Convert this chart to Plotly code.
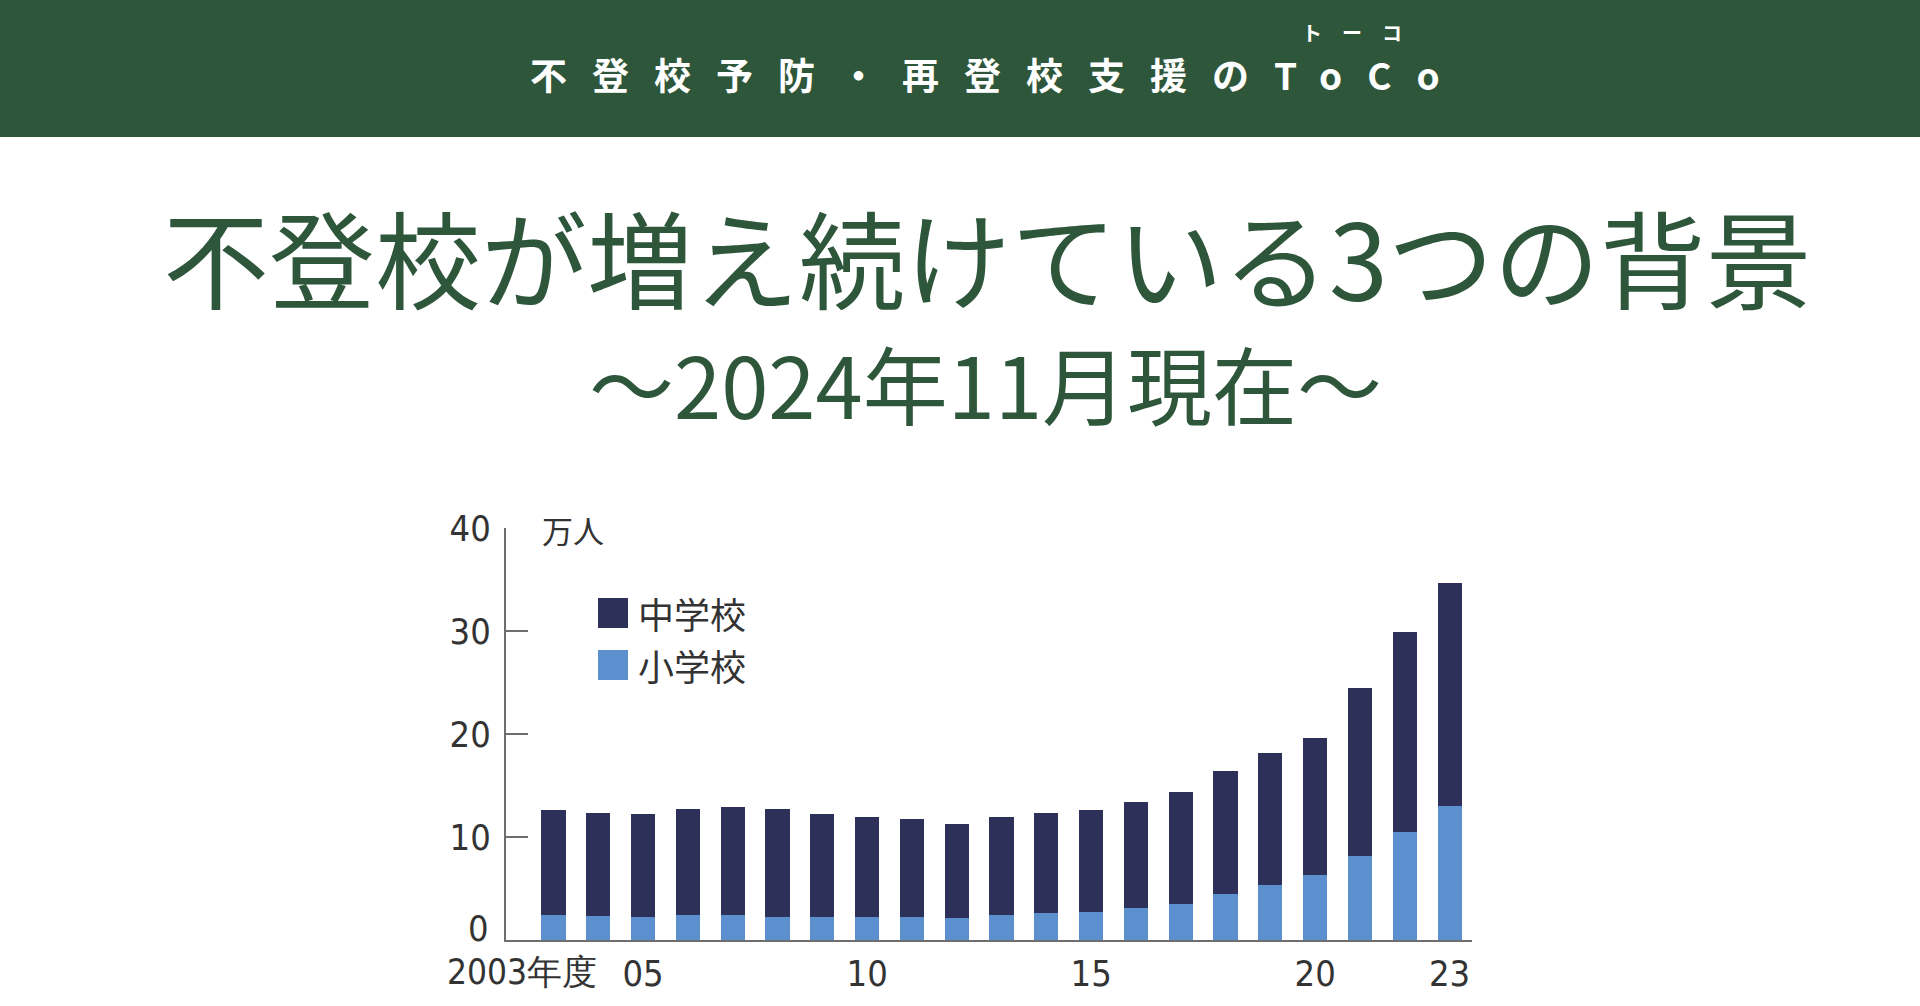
import plotly.graph_objects as go

# ---------------- data (万人) ----------------
years = list(range(2003, 2024))
elementary = [2.41, 2.33, 2.27, 2.38, 2.39, 2.27, 2.23, 2.25, 2.26, 2.12, 2.42,
              2.59, 2.76, 3.12, 3.50, 4.48, 5.34, 6.34, 8.15, 10.51, 13.04]
junior_high = [10.21, 10.00, 9.96, 10.31, 10.53, 10.42, 10.01, 9.74, 9.48, 9.14, 9.54,
               9.70, 9.84, 10.32, 10.90, 11.97, 12.79, 13.28, 16.34, 19.39, 21.61]
series_names = ["中学校", "小学校"]
x_tickvals = [2005, 2010, 2015, 2020, 2023]
x_ticktext = ["05", "10", "15", "20", "23"]
first_year_label = "2003年度"
y_tickvals = [10, 20, 30, 40]
y_unit = "万人"

header_text = "不登校予防・再登校支援のToCo"
header_ruby = "トーコ"
title_text = "不登校が増え続けている3つの背景"
subtitle_text = "〜2024年11月現在〜"

# ---------------- styles ----------------
W, H = 1920, 1006
PL, PR, PT, PB = 506, 1472, 528, 940   # plot area in pixels
GREEN = "#2e563a"
NAVY = "#2d3159"
LIGHT = "#5b8fcd"
AXIS = "#6e6e6e"
TXT = "#333333"
NUM_FONT = "Liberation Sans Narrow, DejaVu Sans Condensed, Liberation Sans, sans-serif"
CJK_FONT = "Noto Sans CJK JP, Noto Sans, sans-serif"


def px2x(px):
    return (px - PL) / (PR - PL)


def px2y(py):
    return (PB - py) / (PB - PT)


fig = go.Figure()
fig.add_trace(go.Bar(x=years, y=elementary, name=series_names[1],
                     marker=dict(color=LIGHT, line=dict(width=0)), width=0.54,
                     showlegend=False))
fig.add_trace(go.Bar(x=years, y=junior_high, name=series_names[0],
                     marker=dict(color=NAVY, line=dict(width=0)), width=0.54,
                     showlegend=False))

shapes = [
    # header band
    dict(type="rect", xref="paper", yref="paper", x0=px2x(0), x1=px2x(W),
         y0=px2y(137), y1=px2y(0), fillcolor=GREEN, line=dict(width=0), layer="below"),
    # legend squares
    dict(type="rect", xref="paper", yref="paper", x0=px2x(598), x1=px2x(628),
         y0=px2y(628), y1=px2y(598), fillcolor=NAVY, line=dict(width=0)),
    dict(type="rect", xref="paper", yref="paper", x0=px2x(598), x1=px2x(628),
         y0=px2y(680), y1=px2y(650), fillcolor=LIGHT, line=dict(width=0)),
]

annotations = [
    dict(text=f'<span style="letter-spacing:25px">{header_text}</span>',
         xref="paper", yref="paper", x=px2x(528), y=px2y(74), xanchor="left", yanchor="middle",
         showarrow=False, font=dict(family=CJK_FONT, size=37, color="white", weight="bold")),
    dict(text=f'<span style="letter-spacing:20px">{header_ruby}</span>',
         xref="paper", yref="paper", x=px2x(1300), y=px2y(32), xanchor="left", yanchor="middle",
         showarrow=False, font=dict(family=CJK_FONT, size=20, color="white", weight="bold")),
    dict(text=title_text, xref="paper", yref="paper", x=px2x(987), y=px2y(255),
         xanchor="center", yanchor="middle", showarrow=False,
         font=dict(family=CJK_FONT, size=106, color=GREEN)),
    dict(text=subtitle_text, xref="paper", yref="paper", x=px2x(985), y=px2y(381),
         xanchor="center", yanchor="middle", showarrow=False,
         font=dict(family=CJK_FONT, size=85, color=GREEN)),
    # unit label
    dict(text=y_unit, xref="paper", yref="paper", x=px2x(540), y=px2y(529),
         xanchor="left", yanchor="middle", showarrow=False,
         font=dict(family=CJK_FONT, size=31, color=TXT)),
    # legend labels
    dict(text=series_names[0], xref="paper", yref="paper", x=px2x(636), y=px2y(613),
         xanchor="left", yanchor="middle", showarrow=False,
         font=dict(family=CJK_FONT, size=36, color=TXT)),
    dict(text=series_names[1], xref="paper", yref="paper", x=px2x(636), y=px2y(665),
         xanchor="left", yanchor="middle", showarrow=False,
         font=dict(family=CJK_FONT, size=36, color=TXT)),
    # first x label
    dict(text=first_year_label, xref="x", yref="paper", x=years[0], y=px2y(972),
         xanchor="center", yanchor="middle", xshift=-31, showarrow=False,
         font=dict(family=NUM_FONT, size=35, color=TXT)),
    # zero label
    dict(text="0", xref="paper", yref="y", x=px2x(491), y=0, yshift=12,
         xanchor="right", yanchor="middle", showarrow=False,
         font=dict(family=NUM_FONT, size=36, color=TXT)),
]

fig.update_layout(
    width=W, height=H, autosize=False,
    margin=dict(l=PL, r=W - PR, t=PT, b=H - PB, pad=0, autoexpand=False),
    paper_bgcolor="white", plot_bgcolor="white",
    barmode="stack", bargap=0.46,
    shapes=shapes, annotations=annotations, showlegend=False,
    xaxis=dict(range=[2001.94, 2023.5], tickvals=x_tickvals, ticktext=x_ticktext,
               showline=True, linecolor=AXIS, linewidth=2, ticks="", showgrid=False,
               zeroline=False, ticklabelstandoff=1, automargin=False,
               tickfont=dict(family=NUM_FONT, size=36, color=TXT)),
    yaxis=dict(range=[0, 40], tickvals=y_tickvals, showline=True, linecolor=AXIS,
               linewidth=2, ticks="inside", ticklen=22, tickwidth=2, tickcolor=AXIS,
               showgrid=False, zeroline=False, ticklabelstandoff=6, automargin=False,
               tickfont=dict(family=NUM_FONT, size=36, color=TXT)),
)

fig.write_html("out.html")
